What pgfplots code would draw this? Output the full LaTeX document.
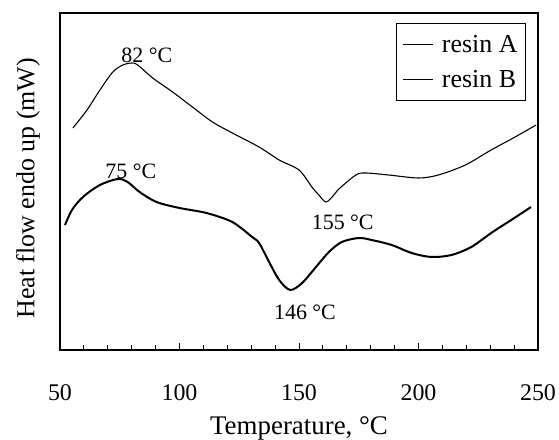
\documentclass[border=0pt]{standalone}
\usepackage{pgfplots}
\pgfplotsset{compat=1.18}
\usepackage{fontspec}
\setmainfont{Liberation Serif}
\begin{document}
\begin{tikzpicture}
\begin{axis}[
  scale only axis, width=478bp, height=337bp,
  xmin=50, xmax=250, ymin=90, ymax=427,
  xtick={50,100,...,250}, minor x tick num=4,
  ytick=\empty,
  tick align=inside, xtick pos=bottom,
  major tick length=7bp, minor tick length=5bp,
  every tick/.style={black, line width=1bp},
  axis line style={line width=1.2bp},
  /pgf/number format/assume math mode=true,
  xticklabel style={font=\fontsize{24}{28}\selectfont, yshift=-31bp},
  xlabel={Temperature, °C}, ylabel={Heat flow endo up (mW)},
  xlabel style={font=\fontsize{27}{30}\selectfont, at={(axis description cs:0.5,0)}, anchor=center, yshift=-78bp},
  ylabel style={font=\fontsize{26}{30}\selectfont, at={(axis description cs:-0.067,0.48)}, anchor=center},
  legend style={at={(1,1)}, anchor=north east, xshift=-12bp, yshift=-10bp, draw=black, line width=1bp,
    font=\fontsize{26}{30}\selectfont, row sep=12bp, inner xsep=6bp, inner ysep=10bp},
  legend cell align=left,
  legend image code/.code={\draw[black, line width=1bp] (0bp,0bp) -- (30bp,0bp); \path (36bp,0bp);},
]
\addplot[black, line width=1.1bp, smooth] coordinates {
(55.4,312) (61.3,330) (66.7,350) (72.1,368) (76.3,375) (80.0,377) (82.5,375)
(88.8,362) (97.1,348) (105.4,333) (113.8,318) (122.1,307) (133.3,293) (141.7,280)
(150.0,270) (155.4,253) (158.3,245) (161.3,238) (164.6,245) (166.7,251) (173.8,265)
(177.9,267) (187.5,265) (200.0,262) (208.3,265) (219.6,275) (230.4,290) (240.4,303) (249.2,315)
};
\addlegendentry{resin A}
\addplot[black, line width=2bp, smooth] coordinates {
(52.1,215) (55.0,230) (59.6,243) (66.7,255) (74.2,261) (78.3,258) (83.3,248)
(90.4,238) (100.0,232) (111.3,227) (122.1,218) (130.4,203) (133.3,197) (137.5,178)
(141.7,160) (146.3,150) (151.3,157) (157.1,173) (162.5,188) (167.9,198) (175.0,202)
(180.4,200) (188.8,195) (197.1,187) (205.4,183) (213.8,185) (222.1,193) (230.4,207)
(238.8,220) (247.1,233)
};
\addlegendentry{resin B}
\node[font=\fontsize{22}{26}\selectfont] at (axis cs:86.3,385) {82 °C};
\node[font=\fontsize{22}{26}\selectfont] at (axis cs:79.6,269) {75 °C};
\node[font=\fontsize{22}{26}\selectfont] at (axis cs:168.3,218) {155 °C};
\node[font=\fontsize{22}{26}\selectfont] at (axis cs:152.5,128) {146 °C};
\coordinate (bl) at (rel axis cs:0,0);
\coordinate (tr) at (rel axis cs:1,1);
\end{axis}
\pgfresetboundingbox
\path ([shift={(-60bp,-90bp)}]bl) rectangle ([shift={(21bp,13bp)}]tr);
\end{tikzpicture}
\end{document}
